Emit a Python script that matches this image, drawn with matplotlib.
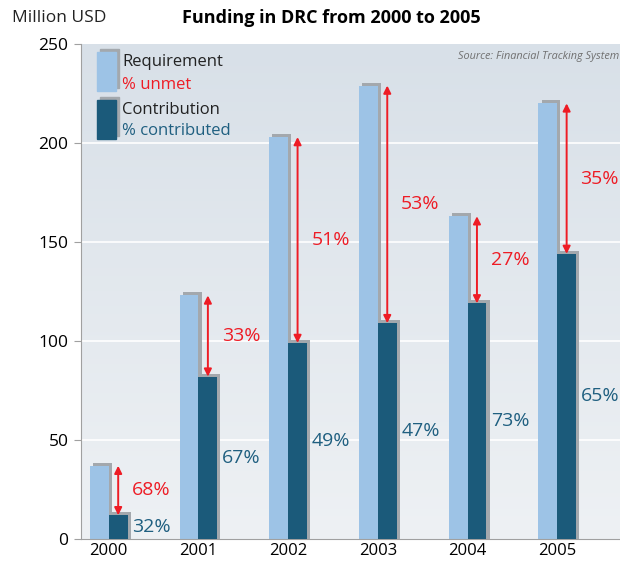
import numpy as np
import matplotlib
matplotlib.use('Agg')
import matplotlib.pyplot as plt
from matplotlib.colors import LinearSegmentedColormap
from matplotlib.patches import Rectangle

plt.rcParams['font.family'] = ['Open Sans', 'DejaVu Sans']

# data
years = ['2000', '2001', '2002', '2003', '2004', '2005']
requirement = [37, 123, 203, 229, 163, 220]
contribution = [12, 82, 99, 109, 119, 144]
pct_unmet = ['68%', '33%', '51%', '53%', '27%', '35%']
pct_contrib = ['32%', '67%', '49%', '47%', '73%', '65%']

light = '#9dc3e6'
dark = '#1b5a7a'
shadow = '#a3a8ad'
red = '#ee1c25'
teal = '#1f5f80'

fig = plt.figure(figsize=(6.2, 5.61), dpi=100)
ax = fig.add_axes([0.1306, 0.0392, 0.8694, 0.8824])

# gradient background
cmap = LinearSegmentedColormap.from_list('bg', ['#eef1f4', '#d8e0e8'])
ax.imshow(np.linspace(0, 1, 256).reshape(-1, 1), extent=[0, 1, 0, 1], origin='lower',
          transform=ax.transAxes, aspect='auto', cmap=cmap, zorder=0)

for v in [50, 100, 150, 200]:
    ax.axhline(v, color='white', lw=1.2, zorder=0.5)

x = np.arange(len(years))
w = 0.21
dx = 0.035  # shadow offset (x)
dy = 1.5    # shadow offset (y)

xl = x - w / 2
xd = x + w / 2
ax.bar(xl + dx, np.array(requirement) + dy, width=w, color=shadow, zorder=1)
ax.bar(xl, requirement, width=w, color=light, zorder=2)
ax.bar(xd + dx, np.array(contribution) + dy, width=w, color=shadow, zorder=3)
ax.bar(xd, contribution, width=w, color=dark, zorder=4)

for i in range(len(years)):
    ax.annotate('', xy=(xd[i], requirement[i]), xytext=(xd[i], contribution[i]),
                arrowprops=dict(arrowstyle='<|-|>', color=red, lw=1.4, shrinkA=0, shrinkB=0,
                                mutation_scale=11), zorder=5)
    ax.annotate(pct_unmet[i], xy=(xd[i], (requirement[i] + contribution[i]) / 2),
                xytext=(10, 0), textcoords='offset points', ha='left', va='center',
                color=red, fontsize=14, zorder=6)
    ax.annotate(pct_contrib[i], xy=(xd[i], contribution[i] / 2),
                xytext=(10, 0), textcoords='offset points', ha='left', va='center',
                color=teal, fontsize=14, zorder=6)

ax.set_xlim(-0.31, 5.70)
ax.set_ylim(0, 250)
ax.set_yticks([0, 50, 100, 150, 200, 250])
ax.set_xticks(x)
ax.set_xticklabels(years)
ax.tick_params(axis='y', labelsize=12.5, length=5, color='#a0a0a0', pad=4)
ax.tick_params(axis='x', labelsize=12, length=0, pad=3)
for s in ['top', 'right']:
    ax.spines[s].set_visible(False)
ax.spines['left'].set_color('#a0a0a0')
ax.spines['bottom'].set_color('#a0a0a0')

# legend drawn by hand
tr = ax.transAxes
def legend_icon(y0, color):
    ax.add_patch(Rectangle((0.030 + 0.006, y0 + 0.006), 0.035, 0.078, transform=tr,
                           color=shadow, zorder=7, clip_on=False))
    ax.add_patch(Rectangle((0.030, y0), 0.035, 0.078, transform=tr, color=color, zorder=8))

legend_icon(0.905, light)
legend_icon(0.808, dark)
ax.text(0.076, 0.963, 'Requirement', transform=tr, fontsize=12, va='center', color='#222222')
ax.text(0.076, 0.918, '% unmet', transform=tr, fontsize=12, va='center', color=red)
ax.text(0.076, 0.866, 'Contribution', transform=tr, fontsize=12, va='center', color='#222222')
ax.text(0.076, 0.824, '% contributed', transform=tr, fontsize=12, va='center', color=teal)

ax.text(0.998, 0.985, 'Source: Financial Tracking System', transform=tr, fontsize=7.8,
        style='italic', color='#707070', ha='right', va='top')

fig.text(0.02, 0.968, 'Million USD', fontsize=12.5, va='center', ha='left', color='#222222')
fig.text(0.534, 0.968, 'Funding in DRC from 2000 to 2005', fontsize=13, fontweight='bold',
         va='center', ha='center', family=['Liberation Sans Narrow', 'Open Sans', 'DejaVu Sans'])

fig.savefig('out.png', dpi=100)
